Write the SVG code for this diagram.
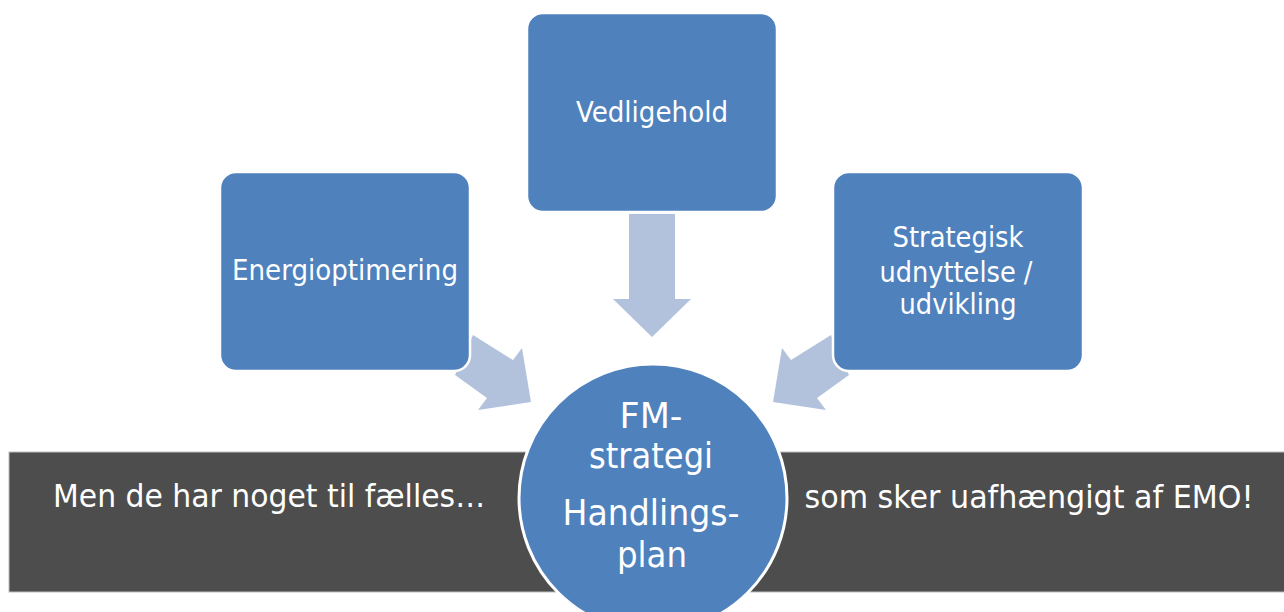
<svg xmlns="http://www.w3.org/2000/svg" width="1284" height="612" viewBox="0 0 1284 612">
<style>
.box{fill:#4f81bd;stroke:#ffffff;stroke-width:2.5}
.arrow{fill:#b3c2dc}
.t{font-family:"DejaVu Sans Condensed","DejaVu Sans","Liberation Sans",sans-serif;font-stretch:condensed;fill:#ffffff;text-anchor:middle}
.bt{font-size:29px}
.ct{font-size:36px}
.band{font-size:32px}
</style>
<rect width="1284" height="612" fill="#ffffff"/>
<g id="band">
<rect x="9" y="452" width="1280" height="140" fill="#4d4d4d" stroke="#bdbdbd" stroke-width="1"/>
<text class="t band" x="269" y="507" textLength="432" lengthAdjust="spacingAndGlyphs">Men de har noget til fælles…</text>
<text class="t band" x="1029" y="508" textLength="449" lengthAdjust="spacingAndGlyphs">som sker uafhængigt af EMO!</text>
</g>
<g id="connectors">
<polygon class="arrow" points="629,214 675,214 675,299 691,299 652,337 613,299 629,299"/>
<polygon class="arrow" points="473,335 513,360 522,348 531,402 478,410 487,398 455,375"/>
<polygon class="arrow" points="831,335 791,360 782,348 773,402 826,410 817,398 849,375"/>
</g>
<g id="node-vedligehold">
<rect class="box" x="527" y="13" width="250" height="199" rx="16"/>
<text class="t bt" x="652" y="122" textLength="152" lengthAdjust="spacingAndGlyphs">Vedligehold</text>
</g>
<g id="node-energi">
<rect class="box" x="220" y="172" width="250" height="199" rx="16"/>
<text class="t bt" x="345" y="280" textLength="226" lengthAdjust="spacingAndGlyphs">Energioptimering</text>
</g>
<g id="node-strategisk">
<rect class="box" x="833" y="172" width="250" height="199" rx="16"/>
<text class="t bt" x="958" y="247" textLength="131" lengthAdjust="spacingAndGlyphs">Strategisk</text>
<text class="t bt" x="956" y="282" textLength="153" lengthAdjust="spacingAndGlyphs">udnyttelse /</text>
<text class="t bt" x="958" y="314" textLength="117" lengthAdjust="spacingAndGlyphs">udvikling</text>
</g>
<g id="node-fm">
<circle cx="653" cy="498" r="134" fill="#4f81bd" stroke="#ffffff" stroke-width="3"/>
<text class="t ct" x="651" y="428" textLength="63" lengthAdjust="spacingAndGlyphs">FM-</text>
<text class="t ct" x="651" y="468" textLength="124" lengthAdjust="spacingAndGlyphs">strategi</text>
<text class="t ct" x="651" y="525" textLength="177" lengthAdjust="spacingAndGlyphs">Handlings-</text>
<text class="t ct" x="652" y="567" textLength="70" lengthAdjust="spacingAndGlyphs">plan</text>
</g>
</svg>
